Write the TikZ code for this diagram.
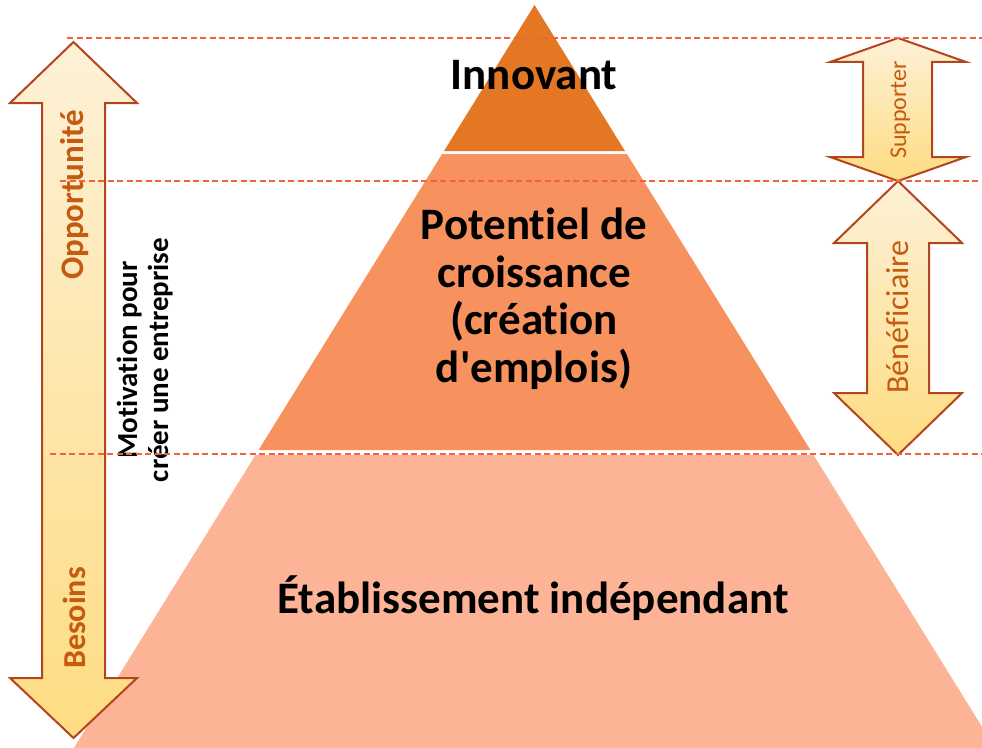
\documentclass[tikz,border=0pt]{standalone}
\usepackage{fontspec}
\setmainfont{Carlito}[Ligatures=CommonOff]
\newcommand\straightquote{\XeTeXglyph\XeTeXcharglyph"27\relax}
\definecolor{topL}{RGB}{228,119,36}
\definecolor{midL}{RGB}{247,146,94}
\definecolor{botL}{RGB}{252,179,150}
\definecolor{arrB}{RGB}{180,68,30}
\definecolor{arrTop}{RGB}{253,241,215}
\definecolor{arrBot}{RGB}{254,220,130}
\definecolor{lblC}{RGB}{197,90,17}
\definecolor{dashC}{RGB}{240,98,64}
\tikzset{
  bigarrow/.style={draw=arrB, line width=2bp, line join=miter, top color=arrTop, bottom color=arrBot},
  guide/.style={draw=dashC, line width=1.3bp, dash pattern=on 6bp off 3.5bp},
  maintext/.style={font=\fontsize{45bp}{47.5bp}\selectfont\bfseries, align=center, inner sep=0pt, anchor=base},
  sidetext/.style={font=\fontsize{#1bp}{#1bp}\selectfont\bfseries, text=lblC, inner sep=0pt, anchor=base, rotate=90},
  sidelight/.style={font=\fontsize{#1bp}{#1bp}\selectfont, text=lblC, inner sep=0pt, anchor=base, rotate=90},
  motivtext/.style={font=\fontsize{29bp}{31bp}\selectfont\bfseries, align=center, inner sep=0pt, anchor=base, rotate=90}
}
\begin{document}
\begin{tikzpicture}[x=1bp,y=-1bp]
\useasboundingbox (0,0) rectangle (982,748);
% pyramid
\begin{scope}
  \clip (0,0) rectangle (982,748);
  \fill[topL] (534.5,5) -- (625,151) -- (444,151) -- cycle;
  \fill[midL] (442.1,154) -- (626.9,154) -- (810.4,450) -- (258.6,450) -- cycle;
  \fill[botL] (255.5,455) -- (813.5,455) -- (1002.6,760) -- (66.4,760) -- cycle;
\end{scope}
% arrows
\path[bigarrow] (73.5,42) -- (137,103) -- (105,103) -- (105,678) -- (137,678) -- (73.5,738)
  -- (10,678) -- (42,678) -- (42,103) -- (10,103) -- cycle;
\path[bigarrow] (898,38) -- (966,62) -- (932,62) -- (932,157) -- (966,157) -- (898,181)
  -- (830,157) -- (863,157) -- (863,62) -- (830,62) -- cycle;
\path[bigarrow] (898,181) -- (962,243) -- (929,243) -- (929,393) -- (962,393) -- (898,455)
  -- (834,393) -- (867,393) -- (867,243) -- (834,243) -- cycle;
% texts
\node[maintext] (innov) at (534,90) {Innovant};
\node[maintext] (pot) at (534,382) {Potentiel de\\croissance\\(création\\d\straightquote emplois)};
\node[maintext] (etab) at (533,613) {Établissement indépendant};
\node[sidetext=33] (opp) at (83,195) {Opportunité};
\node[sidetext=32] (bes) at (85,618) {Besoins};
\node[sidelight=24] (sup) at (906,110) {Supporter};
\node[sidelight=32] (ben) at (908,317) {Bénéficiaire};
\node[motivtext] (motiv) at (168,360) {Motivation pour\\créer une entreprise};
% guide lines
\coordinate (g1a) at (67,38);  \coordinate (g1b) at (982,38);
\coordinate (g2a) at (60,181); \coordinate (g2b) at (982,181);
\coordinate (g3a) at (50,454); \coordinate (g3b) at (982,454);
\draw[guide] (g1a) -- (g1b);
\draw[guide] (g2a) -- (g2b);
\draw[guide] (g3a) -- (g3b);
\end{tikzpicture}
\end{document}
